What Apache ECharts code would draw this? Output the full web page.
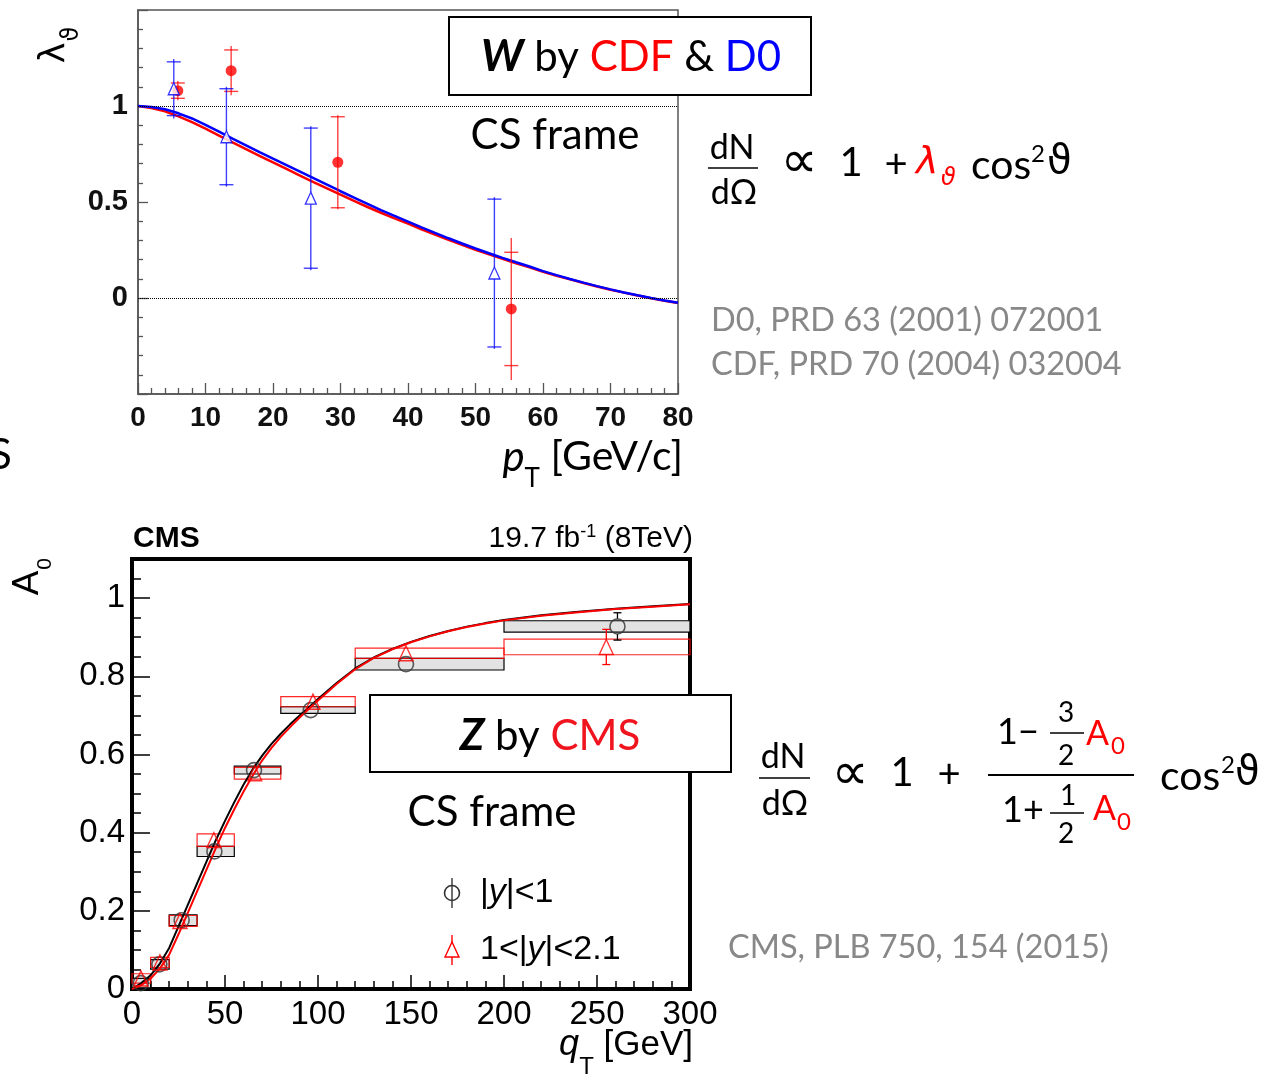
<!DOCTYPE html>
<html><head><meta charset="utf-8">
<script src="https://cdn.jsdelivr.net/npm/echarts@6/dist/echarts.min.js"></script>
<style>html,body{margin:0;padding:0;background:#fff;}#c{width:1272px;height:1076px;}</style>
</head><body><div id="c"></div>
<script>
// ================= TOP PANEL: W, lambda_theta vs pT (CDF & D0) =================
const wAxisTicksY = [0, 0.5, 1];
const refLines = [0, 1];
const wCurvePT  = [0,2,4,6,8,10,12,14,16,18,20,22,24,26,28,30,32,34,36,38,40,42,44,46,48,50,52,54,56,58,60,62,64,66,68,70,72,74,76,78,80];
const wCurveD0  = [1.000,0.995,0.983,0.962,0.935,0.902,0.866,0.830,0.795,0.760,0.726,0.692,0.658,0.624,0.590,0.556,0.523,0.490,0.458,0.428,0.398,0.368,0.339,0.311,0.284,0.258,0.233,0.209,0.186,0.164,0.140,0.119,0.099,0.080,0.062,0.045,0.029,0.014,0.000,-0.013,-0.025];
const wCurveCDF = [1.000,0.990,0.972,0.946,0.916,0.882,0.846,0.810,0.775,0.740,0.706,0.672,0.638,0.604,0.571,0.538,0.506,0.474,0.444,0.415,0.387,0.358,0.330,0.303,0.277,0.251,0.227,0.204,0.181,0.160,0.137,0.116,0.097,0.078,0.060,0.043,0.028,0.013,-0.001,-0.014,-0.026];
const d0PT      = [5.3, 13.1, 25.6, 52.8];
const d0Lam     = [1.09, 0.84, 0.52, 0.13];
const d0Stat    = [0.14, 0.25, 0.365, 0.385];
const d0Tot     = [0.155, 0.26, 0.375, 0.395];
const cdfPT     = [5.9, 13.8, 29.6, 55.3];
const cdfLam    = [1.08, 1.184, 0.707, -0.057];
const cdfStat   = [0.04, 0.108, 0.237, 0.295];
const cdfTot    = [0.05, 0.128, 0.245, 0.37];

// ================= BOTTOM PANEL: Z, A0 vs qT (CMS) =================
const zBinLo    = [0, 10, 20, 35, 55, 80, 120, 200];
const zBinHi    = [10, 20, 35, 55, 80, 120, 200, 300];
const cenQT     = [4.7, 14.7, 26.7, 44.3, 65.6, 96.1, 147.3, 261];
const cenA0     = [0.015, 0.063, 0.176, 0.352, 0.560, 0.7135, 0.831, 0.9275];
const cenSys    = [0.012, 0.012, 0.014, 0.013, 0.010, 0.0085, 0.015, 0.0145];
const cenStat   = [0.004, 0.005, 0.006, 0.007, 0.008, 0.008, 0.010, 0.035];
const fwdQT     = [4.8, 15.0, 25.8, 44.0, 66.0, 97.3, 147.3, 255];
const fwdA0     = [0.027, 0.068, 0.174, 0.381, 0.552, 0.735, 0.859, 0.875];
const fwdSys    = [0.012, 0.013, 0.014, 0.016, 0.015, 0.013, 0.013, 0.020];
const fwdStat   = [0.004, 0.005, 0.006, 0.008, 0.008, 0.010, 0.012, 0.045];
const zCurveQT  = [0,5,10,15,20,25,30,35,40,45,50,55,60,65,70,75,80,85,90,95,100,110,120,130,140,150,160,170,180,190,200,220,240,260,280,300];
const zCurveCen = [0,0.015,0.035,0.065,0.105,0.160,0.215,0.270,0.325,0.380,0.430,0.478,0.523,0.563,0.597,0.627,0.653,0.677,0.699,0.720,0.742,0.783,0.820,0.848,0.870,0.888,0.903,0.916,0.927,0.936,0.944,0.956,0.965,0.973,0.979,0.985];
const zCurveFwd = [0,0.010,0.027,0.052,0.088,0.140,0.195,0.250,0.305,0.360,0.412,0.460,0.505,0.547,0.585,0.617,0.645,0.670,0.694,0.716,0.738,0.780,0.818,0.847,0.869,0.887,0.902,0.915,0.926,0.935,0.943,0.955,0.964,0.972,0.978,0.984];

// ---------------- helpers ----------------
const zip = (a, b) => a.map((v, i) => [v, b[i]]);
function errData(xs, ys, stat, tot) {
  return xs.map((x, i) => [x, ys[i] - tot[i], ys[i] + tot[i], ys[i] - stat[i], ys[i] + stat[i], ys[i]]);
}
function boxData(lo, hi, c, h) { return lo.map((l, i) => [l, hi[i], c[i], h[i]]); }
function makeErr(color, lw, capW, gap) {
  return function (params, api) {
    const x = api.value(0), lo = api.value(1), hi = api.value(2), cLo = api.value(3), cHi = api.value(4), y = api.value(5);
    const pc = api.coord([x, y]);
    const pHi = api.coord([x, hi]), pLo = api.coord([x, lo]);
    const cH = api.coord([x, cHi]), cL = api.coord([x, cLo]);
    const st = { stroke: color, lineWidth: lw };
    const ch = [];
    if (pc[1] - gap > pHi[1]) ch.push({ type: 'line', shape: { x1: pc[0], y1: pHi[1], x2: pc[0], y2: pc[1] - gap }, style: st });
    if (pc[1] + gap < pLo[1]) ch.push({ type: 'line', shape: { x1: pc[0], y1: pc[1] + gap, x2: pc[0], y2: pLo[1] }, style: st });
    if (capW > 0) {
      if (pc[1] - gap > cH[1]) ch.push({ type: 'line', shape: { x1: cH[0] - capW / 2, y1: cH[1], x2: cH[0] + capW / 2, y2: cH[1] }, style: st });
      if (pc[1] + gap < cL[1]) ch.push({ type: 'line', shape: { x1: cL[0] - capW / 2, y1: cL[1], x2: cL[0] + capW / 2, y2: cL[1] }, style: st });
    }
    return { type: 'group', children: ch };
  };
}
function makeBox(fill, stroke, lw) {
  return function (params, api) {
    const p1 = api.coord([api.value(0), api.value(2) + api.value(3)]);
    const p2 = api.coord([api.value(1), api.value(2) - api.value(3)]);
    return { type: 'rect', shape: { x: p1[0], y: p1[1], width: p2[0] - p1[0], height: p2[1] - p1[1] }, style: { fill: fill, stroke: stroke, lineWidth: lw } };
  };
}

const LATO = 'Lato, "Open Sans", sans-serif';
const HELV = '"Liberation Sans", Arial, sans-serif';
const DJV = '"DejaVu Sans", sans-serif';
const GREY_AX = '#555';

function txt(text, x, y, size, opts) {
  opts = opts || {};
  return {
    type: 'text', z: 101, x: x, y: y,
    style: Object.assign({
      text: text, fontFamily: opts.family || LATO, fontSize: size,
      fontWeight: opts.weight || 'normal', fontStyle: opts.style || 'normal',
      fill: opts.color || '#000',
      textAlign: opts.align || 'left', align: opts.align || 'left',
      textVerticalAlign: 'middle', verticalAlign: 'middle'
    }, opts.rich ? { rich: opts.rich } : {})
  };
}
function hline(x1, x2, y, w, color) {
  return { type: 'line', z: 101, shape: { x1: x1, y1: y, x2: x2, y2: y }, style: { stroke: color || '#000', lineWidth: w } };
}

const option = {
  animation: false,
  backgroundColor: '#fff',
  grid: [
    { left: 138, top: 10, width: 540, height: 384, show: true, borderColor: GREY_AX, borderWidth: 1.5, backgroundColor: 'transparent' },
    { left: 132, top: 559, width: 558, height: 430, show: true, borderColor: '#000', borderWidth: 4, backgroundColor: 'transparent' }
  ],
  xAxis: [
    { gridIndex: 0, type: 'value', min: 0, max: 80, interval: 10,
      axisLine: { show: true, onZero: false, lineStyle: { color: GREY_AX, width: 1.5 } },
      axisTick: { show: true, inside: true, length: 11, lineStyle: { color: GREY_AX, width: 1.3 } },
      minorTick: { show: true, splitNumber: 5, length: 6, lineStyle: { color: GREY_AX, width: 1.3 } },
      splitLine: { show: false },
      axisLabel: { fontFamily: HELV, fontWeight: 'bold', fontSize: 28, color: '#111', margin: 10 } },
    { gridIndex: 1, type: 'value', min: 0, max: 300, interval: 50,
      axisLine: { show: false, onZero: false },
      axisTick: { show: true, inside: true, length: 14, lineStyle: { color: '#000', width: 1.5 } },
      minorTick: { show: true, splitNumber: 5, length: 8, lineStyle: { color: '#000', width: 1.5 } },
      splitLine: { show: false },
      axisLabel: { fontFamily: HELV, fontSize: 33, color: '#000', margin: 9 } }
  ],
  yAxis: [
    { gridIndex: 0, type: 'value', min: -0.5, max: 1.5, interval: 0.5,
      axisLine: { show: true, onZero: false, lineStyle: { color: GREY_AX, width: 1.5 } },
      axisTick: { show: true, inside: true, length: 10, lineStyle: { color: GREY_AX, width: 1.3 } },
      minorTick: { show: true, splitNumber: 5, length: 5, lineStyle: { color: GREY_AX, width: 1.3 } },
      splitLine: { show: false },
      axisLabel: { fontFamily: HELV, fontWeight: 'bold', fontSize: 29, color: '#111', margin: 10,
        formatter: v => (wAxisTicksY.some(t => Math.abs(t - v) < 1e-6) ? String(v) : '') } },
    { gridIndex: 1, type: 'value', min: 0, max: 1.1, interval: 0.2,
      axisLine: { show: false, onZero: false },
      axisTick: { show: true, inside: true, length: 18, lineStyle: { color: '#000', width: 1.5 } },
      splitLine: { show: false },
      axisLabel: { fontFamily: HELV, fontSize: 33, color: '#000', margin: 7,
        formatter: v => (v > 1.0001 ? '' : String(Math.round(v * 10) / 10)) } },
    { gridIndex: 1, type: 'value', min: 0, max: 1.1, interval: 0.05, position: 'left',
      axisLine: { show: false, onZero: false },
      axisTick: { show: true, inside: true, length: 9, lineStyle: { color: '#000', width: 1.5 } },
      splitLine: { show: false }, axisLabel: { show: false } }
  ],
  series: [
    // ---- top panel ----
    { type: 'line', xAxisIndex: 0, yAxisIndex: 0, data: zip(wCurvePT, wCurveCDF), showSymbol: false, smooth: false,
      lineStyle: { color: '#ff0000', width: 2.5 }, silent: true, z: 3,
      markLine: { silent: true, symbol: 'none', label: { show: false },
        lineStyle: { type: 'dotted', color: '#000', width: 1 }, data: refLines.map(v => ({ yAxis: v })) } },
    { type: 'line', xAxisIndex: 0, yAxisIndex: 0, data: zip(wCurvePT, wCurveD0), showSymbol: false, smooth: false,
      lineStyle: { color: '#0000ff', width: 2.5 }, silent: true, z: 4 },
    { type: 'custom', xAxisIndex: 0, yAxisIndex: 0, coordinateSystem: 'cartesian2d', silent: true, z: 5,
      data: errData(cdfPT, cdfLam, cdfStat, cdfTot), encode: { x: 0, y: 5 }, renderItem: makeErr('rgba(255,0,0,0.75)', 1.4, 14, 0) },
    { type: 'custom', xAxisIndex: 0, yAxisIndex: 0, coordinateSystem: 'cartesian2d', silent: true, z: 5,
      data: errData(d0PT, d0Lam, d0Stat, d0Tot), encode: { x: 0, y: 5 }, renderItem: makeErr('rgba(0,0,255,0.75)', 1.4, 14, 6) },
    { type: 'scatter', xAxisIndex: 0, yAxisIndex: 0, data: zip(cdfPT, cdfLam), symbol: 'circle', symbolSize: 11,
      itemStyle: { color: '#ff0000' }, silent: true, z: 6 },
    { type: 'scatter', xAxisIndex: 0, yAxisIndex: 0, data: zip(d0PT, d0Lam), symbol: 'triangle', symbolSize: [11, 12],
      itemStyle: { color: '#ffffff', borderColor: '#0000ff', borderWidth: 1.3 }, silent: true, z: 6 },
    // ---- bottom panel ----
    { type: 'custom', xAxisIndex: 1, yAxisIndex: 1, coordinateSystem: 'cartesian2d', silent: true, z: 2,
      data: boxData(zBinLo, zBinHi, cenA0, cenSys), encode: { x: [0, 1], y: 2 }, renderItem: makeBox('#e2e2e2', '#000', 1.2) },
    { type: 'custom', xAxisIndex: 1, yAxisIndex: 1, coordinateSystem: 'cartesian2d', silent: true, z: 2,
      data: boxData(zBinLo, zBinHi, fwdA0, fwdSys), encode: { x: [0, 1], y: 2 }, renderItem: makeBox('rgba(0,0,0,0)', 'rgba(255,0,0,0.85)', 1.2) },
    { type: 'line', xAxisIndex: 1, yAxisIndex: 1, data: zip(zCurveQT, zCurveCen), showSymbol: false, smooth: false,
      lineStyle: { color: '#000', width: 2 }, silent: true, z: 3 },
    { type: 'line', xAxisIndex: 1, yAxisIndex: 1, data: zip(zCurveQT, zCurveFwd), showSymbol: false, smooth: false,
      lineStyle: { color: '#ff0000', width: 2 }, silent: true, z: 4 },
    { type: 'custom', xAxisIndex: 1, yAxisIndex: 1, coordinateSystem: 'cartesian2d', silent: true, z: 5,
      data: errData(cenQT, cenA0, cenStat, cenStat), encode: { x: 0, y: 5 }, renderItem: makeErr('#000', 1.3, 8, 7.5) },
    { type: 'custom', xAxisIndex: 1, yAxisIndex: 1, coordinateSystem: 'cartesian2d', silent: true, z: 5,
      data: errData(fwdQT, fwdA0, fwdStat, fwdStat), encode: { x: 0, y: 5 }, renderItem: makeErr('#ff0000', 1.3, 8, 7.5) },
    { type: 'scatter', xAxisIndex: 1, yAxisIndex: 1, data: zip(cenQT, cenA0), symbol: 'circle', symbolSize: 15,
      itemStyle: { color: 'rgba(0,0,0,0)', borderColor: '#333', borderWidth: 1.6 }, silent: true, z: 6 },
    { type: 'scatter', xAxisIndex: 1, yAxisIndex: 1, data: zip(fwdQT, fwdA0), symbol: 'triangle', symbolSize: [14, 15],
      itemStyle: { color: 'rgba(0,0,0,0)', borderColor: '#ff0000', borderWidth: 1.4 }, silent: true, z: 6 }
  ],
  graphic: [
    // ---- top panel annotations ----
    { type: 'rect', z: 100, shape: { x: 449, y: 17, width: 362, height: 78 }, style: { fill: '#fff', stroke: '#000', lineWidth: 2 } },
    txt('{w|W}{b| by }{r|CDF}{b| & }{bl|D0}', 631, 57, 42, { align: 'center', rich: {
      w: { fontFamily: LATO, fontSize: 44, fontWeight: 'bold', fontStyle: 'italic', fill: '#000' },
      b: { fontFamily: LATO, fontSize: 42, fill: '#000' },
      r: { fontFamily: LATO, fontSize: 42, fill: '#ff0000' },
      bl: { fontFamily: LATO, fontSize: 42, fill: '#0000ff' } } }),
    txt('CS frame', 555, 135, 42, { align: 'center' }),
    { type: 'group', x: 63, y: 48, rotation: Math.PI / 2, z: 101, children: [
      { type: 'text', z: 101, x: -5, y: -8, style: { text: 'λ', fontFamily: DJV, fontSize: 35, fill: '#000', textAlign: 'center', align: 'center', textVerticalAlign: 'middle', verticalAlign: 'middle' } },
      { type: 'text', z: 101, x: 14, y: 9, style: { text: 'ϑ', fontFamily: DJV, fontSize: 24, fill: '#000', textAlign: 'center', align: 'center', textVerticalAlign: 'middle', verticalAlign: 'middle' } }
    ] },
    txt('{p|p}{s|T}{n| [GeV/c]}', 683, 457, 41, { align: 'right', rich: {
      p: { fontFamily: LATO, fontSize: 42, fontStyle: 'italic', fill: '#000', lineHeight: 46, verticalAlign: 'middle' },
      s: { fontFamily: LATO, fontSize: 26, fill: '#000', lineHeight: 30, verticalAlign: 'bottom', padding: [0, 0, -12, 0] },
      n: { fontFamily: LATO, fontSize: 41, fill: '#000', lineHeight: 46, verticalAlign: 'middle' } } }),
    txt('S', -11, 455, 42),
    // top formula
    txt('dN', 732, 148, 34, { align: 'center' }),
    hline(708, 758, 168, 1.5),
    txt('dΩ', 734, 193, 34, { align: 'center' }),
    txt('∝', 799, 163, 52, { align: 'center', family: DJV }),
    txt('1', 851, 163, 40, { align: 'center' }),
    txt('+', 896, 165, 40, { align: 'center' }),
    txt('λ', 916, 163, 38, { family: DJV, style: 'italic', color: '#ff0000' }),
    txt('ϑ', 941, 179, 24, { family: DJV, style: 'italic', color: '#ff0000' }),
    txt('cos', 971, 166, 41),
    txt('2', 1031, 154, 24),
    txt('ϑ', 1047, 163, 40, { family: DJV }),
    txt('D0, PRD 63 (2001) 072001', 711, 321, 32.5, { color: '#888' }),
    txt('CDF, PRD 70 (2004) 032004', 711, 365, 32.5, { color: '#888' }),
    // ---- bottom panel annotations ----
    txt('CMS', 133, 539, 30, { family: HELV, weight: 'bold' }),
    txt('{a|19.7 fb}{s|-1}{a| (8TeV)}', 693, 539, 30, { align: 'right', rich: {
      a: { fontFamily: HELV, fontSize: 30, fill: '#000', lineHeight: 32, verticalAlign: 'middle' },
      s: { fontFamily: HELV, fontSize: 18, fill: '#000', lineHeight: 18, verticalAlign: 'top' } } }),
    { type: 'group', x: 33, y: 577, rotation: Math.PI / 2, z: 101, children: [
      { type: 'text', z: 101, x: -6, y: -5, style: { text: 'A', fontFamily: HELV, fontSize: 37, fill: '#000', textAlign: 'center', align: 'center', textVerticalAlign: 'middle', verticalAlign: 'middle' } },
      { type: 'text', z: 101, x: 13, y: 12, style: { text: '0', fontFamily: HELV, fontSize: 21, fill: '#000', textAlign: 'center', align: 'center', textVerticalAlign: 'middle', verticalAlign: 'middle' } }
    ] },
    txt('{q|q}{s|T}{n| [GeV]}', 693, 1045, 35, { align: 'right', rich: {
      q: { fontFamily: HELV, fontSize: 36, fontStyle: 'italic', fill: '#000', lineHeight: 40, verticalAlign: 'middle' },
      s: { fontFamily: HELV, fontSize: 24, fill: '#000', lineHeight: 26, verticalAlign: 'bottom', padding: [0, 0, -14, 0] },
      n: { fontFamily: HELV, fontSize: 35, fill: '#000', lineHeight: 40, verticalAlign: 'middle' } } }),
    { type: 'rect', z: 100, shape: { x: 370, y: 695, width: 361, height: 77 }, style: { fill: '#fff', stroke: '#000', lineWidth: 2 } },
    txt('{w|Z}{b| by }{r|CMS}', 550, 736, 42, { align: 'center', rich: {
      w: { fontFamily: LATO, fontSize: 44, fontWeight: 'bold', fontStyle: 'italic', fill: '#000' },
      b: { fontFamily: LATO, fontSize: 42, fill: '#000' },
      r: { fontFamily: LATO, fontSize: 42, fill: '#f0141e' } } }),
    txt('CS frame', 492, 812, 42, { align: 'center' }),
    // legend
    { type: 'line', z: 101, shape: { x1: 452, y1: 878, x2: 452, y2: 908 }, style: { stroke: '#333', lineWidth: 1.4 } },
    { type: 'circle', z: 101, shape: { cx: 452, cy: 893, r: 7.5 }, style: { fill: 'rgba(0,0,0,0)', stroke: '#333', lineWidth: 1.6 } },
    txt('{n||}{i|y}{n||<1}', 480, 893, 34, { rich: {
      n: { fontFamily: HELV, fontSize: 34, fill: '#000' }, i: { fontFamily: HELV, fontSize: 34, fontStyle: 'italic', fill: '#000' } } }),
    { type: 'line', z: 101, shape: { x1: 452, y1: 935, x2: 452, y2: 965 }, style: { stroke: '#ff0000', lineWidth: 1.4 } },
    { type: 'polygon', z: 101, shape: { points: [[452, 942], [445, 957], [459, 957]] }, style: { fill: '#fff', stroke: '#ff0000', lineWidth: 1.4 } },
    txt('{n|1<|}{i|y}{n||<2.1}', 480, 950, 34, { rich: {
      n: { fontFamily: HELV, fontSize: 34, fill: '#000' }, i: { fontFamily: HELV, fontSize: 34, fontStyle: 'italic', fill: '#000' } } }),
    // bottom formula
    txt('dN', 783, 757, 34, { align: 'center' }),
    hline(759, 810, 778, 1.5),
    txt('dΩ', 785, 804, 34, { align: 'center' }),
    txt('∝', 850, 775, 52, { align: 'center', family: DJV }),
    txt('1', 902, 773, 40, { align: 'center' }),
    txt('+', 949, 775, 40, { align: 'center' }),
    txt('1−', 1018, 732, 36, { align: 'center' }),
    txt('3', 1066, 713, 28, { align: 'center' }),
    hline(1050, 1084, 733, 1.5),
    txt('2', 1066, 756, 28, { align: 'center' }),
    txt('A', 1086, 734, 34, { color: '#ff0000' }),
    txt('0', 1111, 746, 24, { color: '#ff0000' }),
    hline(988, 1134, 775, 2),
    txt('1+', 1023, 810, 36, { align: 'center' }),
    txt('1', 1068, 796, 28, { align: 'center' }),
    hline(1050, 1084, 813, 1.5),
    txt('2', 1066, 834, 28, { align: 'center' }),
    txt('A', 1093, 809, 34, { color: '#ff0000' }),
    txt('0', 1117, 822, 24, { color: '#ff0000' }),
    txt('cos', 1160, 777, 41),
    txt('2', 1221, 765, 24),
    txt('ϑ', 1235, 774, 40, { family: DJV }),
    txt('CMS, PLB 750, 154 (2015)', 728, 948, 32.5, { color: '#888' })
  ]
};

const chart = echarts.init(document.getElementById('c'), null, { renderer: 'canvas' });
chart.setOption(option);
</script>
</body></html>
